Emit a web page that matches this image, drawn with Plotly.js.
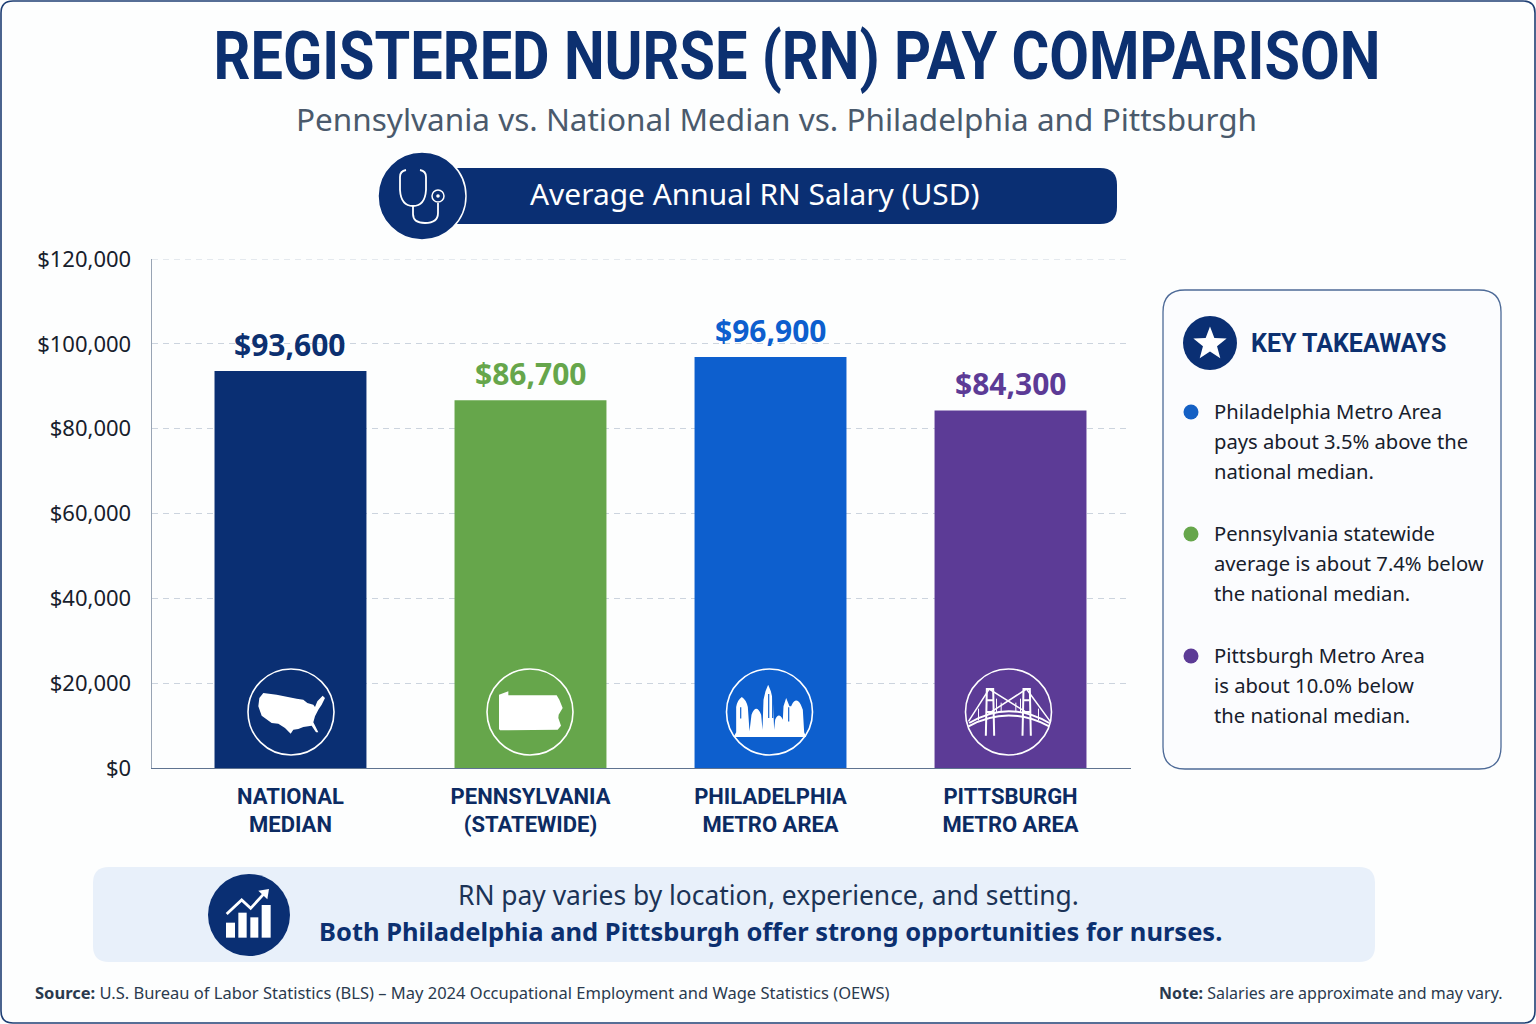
<!DOCTYPE html>
<html><head><meta charset="utf-8">
<script src="https://cdn.plot.ly/plotly-3.0.1.min.js"></script>
<style>html,body{margin:0;padding:0;background:#fdfefe;overflow:hidden}#chart{width:1536px;height:1024px}</style>
</head><body><div id="chart"></div>
<script>
// ---- data ----
const categories = ['NATIONAL<br>MEDIAN','PENNSYLVANIA<br>(STATEWIDE)','PHILADELPHIA<br>METRO AREA','PITTSBURGH<br>METRO AREA'];
const salaries = [93600, 86700, 96900, 84300];
const yTickValues = [0, 20000, 40000, 60000, 80000, 100000, 120000];
const yTickLabels = ['$0','$20,000','$40,000','$60,000','$80,000','$100,000','$120,000'];
const takeaways = [
  ['Philadelphia Metro Area','pays about 3.5% above the','national median.'],
  ['Pennsylvania statewide','average is about 7.4% below','the national median.'],
  ['Pittsburgh Metro Area','is about 10.0% below','the national median.']
];
const chartTitle = 'REGISTERED NURSE (RN) PAY COMPARISON';
// ---- styles ----
const barColors = ['#0a2f73','#66a64b','#0d5fce','#5c3b96'];
const takeawayColors = ['#1460c4','#66a64b','#5c3b96'];
const NAVY = '#0a2f73', INK = '#17202c';
const BODY = '"Noto Sans", sans-serif', HEAD = 'Roboto, "Noto Sans", sans-serif';

// ---- pixel helpers for the decoration ----
const L = 152, R = 1131, T = 259, B = 768;
const X = p => (p - L) / (R - L), Y = p => (B - p) / (B - T);
const f = v => v.toFixed(5);
const shapes = [], annotations = [];
function path(d, cx, cy, s, o) {
  const out = d.replace(/(-?[\d.]+)[ ,](-?[\d.]+)/g, (m, a, b) => f(X(cx + a * s)) + ',' + f(Y(cy + b * s)));
  shapes.push(Object.assign({type:'path', xref:'paper', yref:'paper', path: out, layer:'above'}, o));
}
function fillIcon(d, cx, cy, s, color) { path(d, cx, cy, s, {fillcolor: color || '#fff', line:{width:0}}); }
function lineIcon(d, cx, cy, s, w, color) { path(d, cx, cy, s, {line:{color: color || '#fff', width:w}}); }
function circle(cx, cy, r, fill, stroke, w, layer) {
  shapes.push({type:'circle', xref:'paper', yref:'paper', x0:X(cx-r), x1:X(cx+r), y0:Y(cy+r), y1:Y(cy-r),
    fillcolor: fill, line:{color: stroke || 'rgba(0,0,0,0)', width: w || 0}, layer: layer || 'above'});
}
function roundRect(x0, y0, x1, y1, r, fill, stroke, w) {
  const d = `M ${x0+r} ${y0} L ${x1-r} ${y0} Q ${x1} ${y0} ${x1} ${y0+r} L ${x1} ${y1-r} Q ${x1} ${y1} ${x1-r} ${y1} L ${x0+r} ${y1} Q ${x0} ${y1} ${x0} ${y1-r} L ${x0} ${y0+r} Q ${x0} ${y0} ${x0+r} ${y0} Z`;
  path(d, 0, 0, 1, {fillcolor: fill, line:{color: stroke || 'rgba(0,0,0,0)', width: w || 0}, layer:'below'});
}
function label(text, px, py, size, color, family, anchor, weight) {
  annotations.push({text, xref:'paper', yref:'paper', x:X(px), y:Y(py), xanchor:anchor||'center', yanchor:'middle',
    showarrow:false, borderpad:0, font:{size, color, family, weight: weight || 400}});
}

// frame, banner, panel, pill
roundRect(1, 1, 1535, 1023, 12, '#fdfefe', '#1f3f74', 1.6);
roundRect(93, 867, 1375, 962, 16, '#e8f0fa');
roundRect(1163, 290, 1501, 769, 22, '#fbfcfe', '#4d6a97', 1.3);
roundRect(440, 168, 1117, 224, 17, NAVY);

// top gridline (Plotly drops the grid at the range end)
shapes.push({type:'line', xref:'paper', yref:'y', x0:0, x1:1, y0:yTickValues[6], y1:yTickValues[6], layer:'below',
  line:{color:'#ccd4de', width:1, dash:'6px,5px'}});

// header
label(chartTitle, 797, 57, 66, '#0c3070', HEAD, 'center', 700);
label('Pennsylvania vs. National Median vs. Philadelphia and Pittsburgh', 776, 118.5, 31.5, '#4a5a6c', BODY);
circle(422, 196, 44, NAVY, '#fdfefe', 1.5);
label('Average Annual RN Salary (USD)', 755, 193.5, 29.9, '#ffffff', BODY);
lineIcon('M -16 -26 Q -22 -25 -22 -19 L -22 -6 Q -21 10 -9 10 Q 3 10 4 -6 L 4 -19 Q 4 -25 -2 -26', 422, 196, 1, 1.8);
lineIcon('M -9 10 L -9 18 Q -9 27 3 27 Q 16 27 16 17 L 16 7', 422, 196, 1, 1.8);
circle(438, 196, 6, 'rgba(0,0,0,0)', '#fff', 1.5);
circle(438, 196, 1.8, '#fff');

// bar-foot icons
const iconY = 712, s3 = 1/3;
[291, 530, 769.5, 1008.5].forEach(cx => circle(cx, iconY, 43, 'rgba(0,0,0,0)', '#ffffff', 1.6));
fillIcon('M -86 -57 L -46 -52 L 14 -40 L 34 -37 L 46 -27 L 64 -22 L 69 -15 L 76 -32 L 92 -49 L 99 -42 L 89 -22 L 79 -7 L 69 13 L 64 31 L 79 61 L 72 61 L 59 41 L 34 45 L 19 51 L 4 53 L -4 65 L -21 48 L -41 35 L -61 33 L -91 11 L -101 -17 L -98 -42 Z', 292, iconY, s3);
fillIcon('M -93 -52 L -65 -62 L -65 -50 L 80 -50 L 88 -37 L 98 -12 L 86 8 L 85 18 L 93 41 L 83 53 L -90 55 L -93 51 Z', 530, iconY, s3);
fillIcon('M -100 61 L -100 -15 Q -96 -37 -83 -45 Q -70 -37 -65 -15 L -60 58 L -54 8 Q -40 -27 -25 8 L -21 53 L -18 -37 L -12 -62 L -4 -82 L 4 -62 L 10 -37 L 14 53 L 17 23 Q 28 -2 40 23 L 42 -17 L 50 -42 L 60 -17 L 65 -17 L 67 -22 Q 80 -47 94 -22 L 100 -7 L 104 61 L 110 75 L -108 75 Z', 769.5, iconY, s3);
lineIcon('M -2 -45 L -2 15 M 8 -45 L 8 15', 769.5, iconY, 0.4, 1.2, barColors[2]);
lineIcon('M -90 -15 L -90 20 M 60 -15 L 60 30', 769.5, iconY, 0.32, 1.2, barColors[2]);
const bx = 1008.5;
lineIcon('M -68 71 L -65 -69 M -43 71 L -46 -69 M -68 -69 L -43 -69 M -67 -35 L -44 -35 M -67 0 L -44 0', bx, iconY, s3, 2);
lineIcon('M 42 71 L 45 -69 M 67 71 L 64 -69 M 42 -69 L 67 -69 M 43 -35 L 66 -35 M 43 0 L 66 0', bx, iconY, s3, 2);
lineIcon('M -120 43 Q 0 -22 122 43 M -118 33 Q 0 -38 122 33', bx, iconY, s3, 2);
lineIcon('M -120 28 L -58 -69 L 60 5 M 54 -69 L -60 5 M 54 -69 L 125 28', bx, iconY, s3, 1.5);
lineIcon('M -36 -40 L -36 0 M -22 -28 L -22 -2 M 22 -28 L 22 -2 M 36 -40 L 36 0 M -90 -10 L -90 25 M 90 -10 L 90 25', bx, iconY, s3, 1);

// key takeaways panel
circle(1210, 343, 27, NAVY);
const star = [];
for (let i = 0; i < 10; i++) {
  const r = i % 2 ? 7.4 : 17.5, a = -Math.PI/2 + i*Math.PI/5;
  star.push((i ? 'L ' : 'M ') + (r*Math.cos(a)).toFixed(2) + ' ' + (r*Math.sin(a)).toFixed(2));
}
fillIcon(star.join(' ') + ' Z', 1210, 344, 1);
label('KEY TAKEAWAYS', 1250, 343, 25, '#0c3070', HEAD, 'left', 700);
takeaways.forEach((lines, i) => {
  const top = 412 + i * 122;
  circle(1191, top, 7.5, takeawayColors[i]);
  lines.forEach((t, j) => label(t, 1212.5, top - 0.6 + j * 29.8, 20.2, INK, BODY, 'left'));
});

// bottom banner
circle(249, 915, 41, NAVY);
[[-69,23,-42,68],[-32,-7,-7,68],[4,7,28,68],[38,-30,65,68]].forEach(b =>
  fillIcon(`M ${b[0]} ${b[1]} L ${b[2]} ${b[1]} L ${b[2]} ${b[3]} L ${b[0]} ${b[3]} Z`, 249, 915, s3));
lineIcon('M -67 -3 L -22 -45 L 5 -20 L 48 -67', 249, 915, s3, 2.8);
fillIcon('M 60 -78 L 28 -73 L 55 -47 Z', 249, 915, s3);
label('RN pay varies by location, experience, and setting.', 768.5, 895, 26.4, '#1b3356', BODY);
label('Both Philadelphia and Pittsburgh offer strong opportunities for nurses.', 770, 931, 25.5, '#0c3070', BODY, 'center', 700);

// footer
label('<b>Source:</b> U.S. Bureau of Labor Statistics (BLS) – May 2024 Occupational Employment and Wage Statistics (OEWS)', 34, 992.5, 16.5, '#2a3a4e', BODY, 'left');
label('<b>Note:</b> Salaries are approximate and may vary.', 1504, 993, 16, '#2a3a4e', BODY, 'right');

// value labels, placed through the data scale
salaries.forEach((v, i) => annotations.push({
  x: categories[i], y: v, xref:'x', yref:'y', yanchor:'bottom', yshift:4, showarrow:false,
  text:'$' + v.toLocaleString('en-US'), font:{size:30, weight:700, color: i === 0 ? '#0c3070' : barColors[i], family: BODY}
}));

const data = [{
  type:'bar', x:categories, y:salaries, width:0.633,
  marker:{color:barColors, line:{width:0}}, hoverinfo:'skip', showlegend:false
}];
const layout = {
  width:1536, height:1024, autosize:false, showlegend:false,
  paper_bgcolor:'#fdfefe', plot_bgcolor:'rgba(0,0,0,0)',
  margin:{l:L, r:1536-R, t:T, b:1024-B, pad:0},
  font:{family:BODY},
  xaxis:{type:'category', range:[-0.577,3.502], fixedrange:true, showgrid:false, zeroline:false,
    showline:true, linecolor:'#5f7390', linewidth:1.4, ticks:'', ticklen:0, ticklabelstandoff:8,
    tickfont:{size:22, color:'#0c2b62', family:'Roboto, sans-serif', weight:700}},
  yaxis:{range:[0,120000], tickmode:'array', tickvals:yTickValues, ticktext:yTickLabels, fixedrange:true,
    showgrid:true, gridcolor:'#ccd4de', griddash:'6px,5px', gridwidth:1, zeroline:false,
    showline:true, linecolor:'#98a4b4', linewidth:1.4, ticks:'', ticklabelstandoff:15,
    tickfont:{size:22, color:INK, family:BODY}},
  shapes, annotations
};
Plotly.newPlot('chart', data, layout, {displayModeBar:false, staticPlot:true}).then(gd => {
  // the reference title is a condensed face: squeeze the real text horizontally to its measured width
  gd.querySelectorAll('.annotation-text').forEach(t => {
    if (t.textContent === chartTitle) {
      const b = t.getBBox(), cx = b.x + b.width / 2, sx = 1167 / b.width;
      t.setAttribute('transform', `translate(${cx},0) scale(${sx},1) translate(${-cx},0)`);
    }
  });
});
</script></body></html>
